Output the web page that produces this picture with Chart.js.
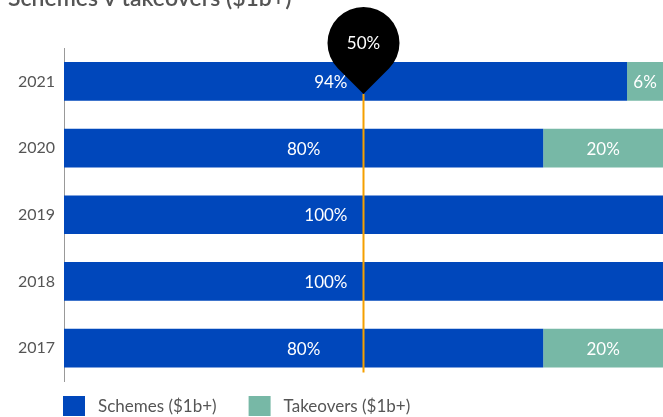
<!DOCTYPE html>
<html>
<head>
<meta charset="utf-8">
<script src="https://cdn.jsdelivr.net/npm/chart.js@4"></script>
<style>
  html, body { margin: 0; padding: 0; background: #fff; overflow: hidden; }
  #wrap { position: relative; width: 663px; height: 417px; }
</style>
</head>
<body>
<div id="wrap"><canvas id="c" width="663" height="417"></canvas></div>
<script>
// Share of $1b+ deals done as schemes vs takeovers, by year
const years = ['2021', '2020', '2019', '2018', '2017'];
const schemes = [94, 80, 100, 100, 80];
const takeovers = [6, 20, 0, 0, 20];
const seriesNames = ['Schemes ($1b+)', 'Takeovers ($1b+)'];
const thresholdPct = 50;
const titleText = 'Schemes v takeovers ($1b+)';

const BLUE = '#0047BB';
const TEAL = '#77B8A6';
const GREY = '#555555';
const FONT = 'Lato, "Noto Sans", sans-serif';

// Percent labels inside each bar segment; labels that would sit on the
// threshold line are nudged to its left
const segmentLabels = {
  id: 'segmentLabels',
  afterDatasetsDraw(chart) {
    const ctx = chart.ctx;
    const lineX = chart.scales.x.getPixelForValue(thresholdPct);
    ctx.save();
    ctx.fillStyle = '#ffffff';
    ctx.font = '17px ' + FONT;
    ctx.textAlign = 'center';
    ctx.textBaseline = 'middle';
    chart.data.datasets.forEach((ds, di) => {
      const meta = chart.getDatasetMeta(di);
      meta.data.forEach((bar, i) => {
        const v = ds.data[i];
        if (!v) return;
        const p = bar.getProps(['x', 'y', 'base'], true);
        const text = v + '%';
        const half = ctx.measureText(text).width / 2;
        let cx = (p.x + p.base) / 2;
        const gap = 16;
        if (cx - half - gap < lineX && cx + half + gap > lineX) {
          cx = lineX - gap - half;
        }
        ctx.fillText(text, cx, p.y + 1);
      });
    });
    ctx.restore();
  }
};

// Vertical threshold line with a pin-shaped marker on top
const thresholdPin = {
  id: 'thresholdPin',
  afterDraw(chart) {
    const ctx = chart.ctx;
    const x = chart.scales.x.getPixelForValue(thresholdPct);
    const tipY = chart.chartArea.top + 46;
    const cy = 43, r = 36;
    ctx.save();
    ctx.strokeStyle = '#F5A000';
    ctx.lineWidth = 2;
    ctx.beginPath();
    ctx.moveTo(x, tipY);
    ctx.lineTo(x, chart.chartArea.bottom - 9);
    ctx.stroke();

    const d = tipY - cy;
    const a = Math.acos(r / d);
    ctx.fillStyle = '#000000';
    ctx.beginPath();
    ctx.moveTo(x, tipY);
    ctx.arc(x, cy, r, Math.PI / 2 + a, Math.PI / 2 - a, false);
    ctx.closePath();
    ctx.fill();

    ctx.fillStyle = '#ffffff';
    ctx.font = '17px ' + FONT;
    ctx.textAlign = 'center';
    ctx.textBaseline = 'middle';
    ctx.fillText(thresholdPct + '%', x, cy + 1);
    ctx.restore();
  }
};

// Heading (partly above the canvas top) and the series key at the bottom
const headingAndKey = {
  id: 'headingAndKey',
  afterDraw(chart) {
    const ctx = chart.ctx;
    ctx.save();
    ctx.fillStyle = GREY;
    ctx.font = '600 23px ' + FONT;
    ctx.textAlign = 'left';
    ctx.textBaseline = 'alphabetic';
    ctx.fillText(titleText, 8, 6);

    const items = chart.data.datasets.map(ds => ({ text: ds.label, color: ds.backgroundColor }));
    let x = 63;
    const boxY = 396, boxW = 22, boxH = 20;
    ctx.font = '17px ' + FONT;
    ctx.textBaseline = 'middle';
    items.forEach(it => {
      ctx.fillStyle = it.color;
      ctx.fillRect(x, boxY, boxW, boxH);
      ctx.fillStyle = GREY;
      ctx.fillText(it.text, x + boxW + 13, boxY + boxH / 2 + 1);
      x += boxW + 13 + ctx.measureText(it.text).width + 32;
    });
    ctx.restore();
  }
};

new Chart(document.getElementById('c'), {
  type: 'bar',
  data: {
    labels: years,
    datasets: [
      { label: seriesNames[0], data: schemes, backgroundColor: BLUE },
      { label: seriesNames[1], data: takeovers, backgroundColor: TEAL }
    ]
  },
  options: {
    indexAxis: 'y',
    responsive: false,
    animation: false,
    devicePixelRatio: 1,
    layout: { padding: { top: 48, bottom: 35.5, left: 0, right: 0 } },
    datasets: { bar: { categoryPercentage: 1, barPercentage: 0.58, borderWidth: 0 } },
    scales: {
      x: {
        stacked: true, min: 0, max: 100, display: false,
        grid: { display: false }
      },
      y: {
        stacked: true,
        afterFit(scale) { scale.width = 64; },
        grid: { display: false, drawTicks: false },
        border: { display: true, color: '#999999', width: 1 },
        ticks: {
          color: GREY,
          padding: 9,
          font: { family: FONT, size: 16 }
        }
      }
    },
    plugins: {
      legend: { display: false },
      title: { display: false },
      tooltip: { enabled: false }
    }
  },
  plugins: [segmentLabels, thresholdPin, headingAndKey]
});
</script>
</body>
</html>
